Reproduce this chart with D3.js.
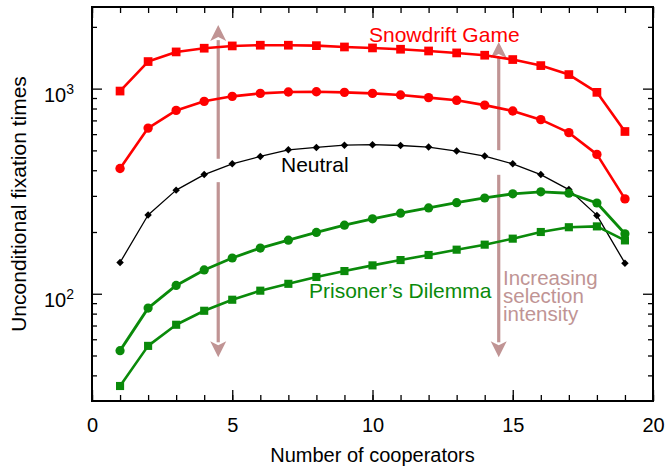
<!DOCTYPE html>
<html>
<head>
<meta charset="utf-8">
<script src="https://cdn.jsdelivr.net/npm/d3@7"></script>
<style>
  body { margin: 0; background: #fff; }
  svg { font-family: "Liberation Sans", Arial, Helvetica, sans-serif; }
</style>
</head>
<body>
<svg width="666" height="469"></svg>
<script>
// number of cooperators on the x axis
var cooperators = d3.range(1, 20);

// fixation times
var snowdriftStrong = [973, 1355, 1510, 1574, 1615, 1628, 1628, 1620, 1596, 1579, 1556, 1526, 1493, 1455, 1386, 1295, 1171, 959, 618];
var snowdriftWeak   = [408, 642, 783, 867, 917, 948, 963, 965, 959, 948, 931, 904, 877, 831, 778, 706, 610, 478, 290];
var neutral         = [142, 242, 320, 381, 430, 467, 503, 517, 530, 533, 528, 519, 496, 469, 430, 381, 322, 241, 141];
var prisonersWeak   = [52.8, 85.1, 109.8, 130.6, 149.4, 167, 182.5, 199, 216, 232, 247, 262, 278, 293, 307, 314, 309, 277, 196];
var prisonersStrong = [35.5, 55.7, 70.6, 82.6, 93.5, 103.5, 111.8, 120.7, 129, 137.5, 146, 154.5, 164, 173.5, 185.6, 200, 211, 213, 182];

var xTickLabels = [0, 5, 10, 15, 20];
var yMajor = [100, 1000];
var yMinor = [40, 50, 60, 70, 80, 90, 200, 300, 400, 500, 600, 700, 800, 900, 2000];

// arrows: [x, from, to] in data units
var arrows = [[4.5, 455, 2040], [4.5, 350, 49], [14.5, 501, 1690], [14.5, 380, 49]];

var margin = {top: 7, right: 13, bottom: 68, left: 92},
    width = 666 - margin.left - margin.right,
    height = 469 - margin.top - margin.bottom;

var svg = d3.select("svg");
var g = svg.append("g").attr("transform", "translate(" + margin.left + "," + margin.top + ")");

var xScale = d3.scaleLinear().domain([0, 20]).range([0, width]);
var yScale = d3.scaleLog().domain([30, 2500]).range([height, 0]);

var arrowColor = "#c09494";

// arrows behind the curves
arrows.forEach(function(a) {
  var x = xScale(a[0]), y0 = yScale(a[1]), y1 = yScale(a[2]);
  var dir = y1 < y0 ? 1 : -1;   // 1 = pointing up
  var base = y1 + dir * 15;
  g.append("line")
    .attr("x1", x).attr("x2", x)
    .attr("y1", y0).attr("y2", base)
    .attr("stroke", arrowColor).attr("stroke-width", 3.2);
  g.append("path")
    .attr("d", "M" + x + "," + y1 + "L" + (x - 8) + "," + (base + dir * 1) + "L" + x + "," + (base - dir * 3) + "L" + (x + 8) + "," + (base + dir * 1) + "Z")
    .attr("fill", arrowColor);
});

// axes, ticks pointing inward
var bottomMinor = d3.axisBottom(xScale).tickValues(d3.range(0, 21)).tickSize(-6).tickFormat("");
var bottomMajor = d3.axisBottom(xScale).tickValues(xTickLabels).tickSize(-11).tickPadding(17);
var topMinor = d3.axisTop(xScale).tickValues(d3.range(0, 21)).tickSize(-6).tickFormat("");
var topMajor = d3.axisTop(xScale).tickValues(xTickLabels).tickSize(-11).tickFormat("");
var leftMinor = d3.axisLeft(yScale).tickValues(yMinor).tickSize(-5).tickFormat("");
var leftMajor = d3.axisLeft(yScale).tickValues(yMajor).tickSize(-10).tickPadding(18).tickFormat("");
var rightMinor = d3.axisRight(yScale).tickValues(yMinor).tickSize(-5).tickFormat("");
var rightMajor = d3.axisRight(yScale).tickValues(yMajor).tickSize(-10).tickFormat("");

function drawAxis(ax, tx, ty) {
  var s = g.append("g").attr("transform", "translate(" + tx + "," + ty + ")").call(ax);
  s.select(".domain").remove();
  s.selectAll(".tick line").attr("stroke", "#000").attr("stroke-width", 1.3);
  return s;
}
drawAxis(bottomMinor, 0, height);
var bx = drawAxis(bottomMajor, 0, height);
bx.selectAll("text").attr("font-size", 20).attr("fill", "#000").attr("font-family", null);
drawAxis(topMinor, 0, 0);
drawAxis(topMajor, 0, 0);
drawAxis(leftMinor, 0, 0);
var lx = drawAxis(leftMajor, 0, 0);
lx.selectAll(".tick text").each(function(d) {
  var t = d3.select(this).attr("font-size", 20).attr("fill", "#000").attr("dy", 12.5).attr("font-family", null);
  t.append("tspan").text("10");
  t.append("tspan").attr("dy", -8).attr("font-size", 14).text(Math.round(Math.log10(d)));
});
drawAxis(rightMinor, width, 0);
drawAxis(rightMajor, width, 0);

g.append("rect")
  .attr("width", width).attr("height", height)
  .attr("fill", "none").attr("stroke", "#000").attr("stroke-width", 2);

var line = d3.line().x(function(d, i) { return xScale(cooperators[i]); }).y(function(d) { return yScale(d); });

function series(values, color, lw, marker, size) {
  g.append("path").datum(values)
    .attr("d", line).attr("fill", "none")
    .attr("stroke", color).attr("stroke-width", lw).attr("stroke-linejoin", "round");
  var sel = g.append("g").selectAll("path.m").data(values).enter();
  if (marker === "circle") {
    sel.append("circle")
      .attr("cx", function(d, i) { return xScale(cooperators[i]); })
      .attr("cy", function(d) { return yScale(d); })
      .attr("r", size).attr("fill", color);
  } else {
    var sym = d3.symbol().type(d3.symbolSquare).size(size);
    sel.append("path")
      .attr("d", sym)
      .attr("transform", function(d, i) {
        return "translate(" + xScale(cooperators[i]) + "," + yScale(d) + ")" + (marker === "diamond" ? " rotate(45)" : "");
      })
      .attr("fill", color);
  }
}

var red = "#ff0000", green = "#0a8a0a";
series(neutral, "#000", 1.3, "diamond", 28);
series(snowdriftStrong, red, 2.6, "square", 76);
series(snowdriftWeak, red, 2.6, "circle", 4.7);
series(prisonersWeak, green, 2.8, "circle", 4.6);
series(prisonersStrong, green, 2.6, "square", 66);

// annotations
g.append("text").attr("x", 277).attr("y", 35).attr("font-size", 21).attr("fill", red).text("Snowdrift Game");
g.append("text").attr("x", 189).attr("y", 165).attr("font-size", 21).attr("fill", "#000").text("Neutral");
g.append("text").attr("x", 217).attr("y", 291).attr("font-size", 21).attr("fill", green).text("Prisoner\u2019s Dilemma");
var inc = g.append("text").attr("x", 411).attr("y", 278).attr("font-size", 20.5).attr("fill", arrowColor);
["Increasing", "selection", "intensity"].forEach(function(s, i) {
  inc.append("tspan").attr("x", 411).attr("dy", i === 0 ? 0 : 18).text(s);
});

// axis titles
svg.append("text")
  .attr("x", margin.left + width / 2).attr("y", 461.5)
  .attr("text-anchor", "middle").attr("font-size", 20)
  .text("Number of cooperators");
svg.append("text")
  .attr("transform", "translate(26," + (margin.top + height / 2) + ") rotate(-90)")
  .attr("text-anchor", "middle").attr("font-size", 21)
  .text("Unconditional fixation times");
</script>
</body>
</html>
